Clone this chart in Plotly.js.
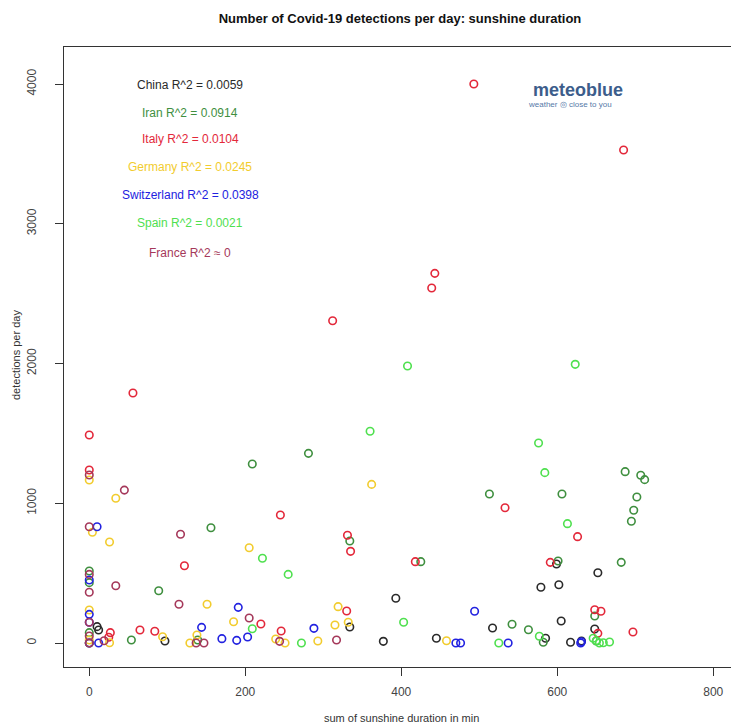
<!DOCTYPE html>
<html>
<head>
<meta charset="utf-8">
<script src="https://cdn.plot.ly/plotly-3.0.1.min.js"></script>
<style>html,body{margin:0;padding:0;background:#fff;}#chart{width:731px;height:725px;}</style>
</head>
<body>
<div id="chart"></div>
<script>
// ---- data ----
const countries = ["China", "Iran", "Italy", "Germany", "Switzerland", "Spain", "France"];
const r2Labels = ["China R^2 = 0.0059", "Iran R^2 = 0.0914", "Italy R^2 = 0.0104", "Germany R^2 = 0.0245", "Switzerland R^2 = 0.0398", "Spain R^2 = 0.0021", "France R^2 \u2248 0"];

const chinaX = [10, 12, 97, 334, 377, 393, 445, 517, 579, 585, 599, 602, 605, 617, 631, 648, 652];
const chinaY = [117, 93, 14, 114, 12, 320, 34, 107, 399, 34, 565, 417, 157, 5, 14, 100, 503];

const iranX = [0, 0, 0, 0, 54, 89, 139, 156, 209, 281, 334, 425, 513, 542, 563, 582, 601, 606, 648, 650, 682, 687, 695, 698, 702, 707, 712];
const iranY = [515, 432, 74, 0, 21, 374, 21, 825, 1281, 1357, 730, 582, 1066, 134, 95, 5, 587, 1066, 193, 14, 577, 1226, 871, 950, 1045, 1200, 1169];

const italyX = [0, 0, 25, 27, 56, 65, 84, 122, 220, 245, 246, 312, 330, 331, 335, 418, 439, 443, 493, 533, 591, 626, 648, 652, 656, 697, 685];
const italyY = [1488, 1238, 41, 74, 1789, 93, 84, 553, 136, 916, 86, 2306, 229, 771, 656, 582, 2540, 2645, 4000, 968, 577, 761, 238, 69, 227, 79, 3528];

const germanyX = [0, 34, 4, 26, 0, 0, 26, 94, 129, 138, 151, 185, 205, 239, 251, 293, 315, 319, 332, 362, 458];
const germanyY = [1166, 1036, 792, 723, 236, 21, 2, 45, 0, 57, 277, 152, 682, 29, 0, 14, 129, 260, 148, 1135, 16];

const switzerlandX = [10, 0, 0, 0, 0, 12, 144, 170, 189, 191, 203, 288, 470, 476, 494, 537, 630, 631];
const switzerlandY = [832, 451, 205, 148, 0, 0, 112, 31, 19, 255, 43, 105, 0, 0, 227, 0, 0, 9];

const spainX = [209, 222, 255, 272, 360, 403, 408, 525, 576, 577, 584, 613, 623, 646, 650, 654, 659, 667];
const spainY = [102, 606, 491, 0, 1515, 148, 1982, 0, 1431, 48, 1219, 854, 1994, 34, 16, 0, 2, 7];

const franceX = [0, 45, 0, 0, 0, 0, 0, 0, 19, 34, 115, 117, 137, 147, 205, 244, 317];
const franceY = [1202, 1094, 832, 491, 363, 148, 50, 0, 16, 410, 277, 778, 0, 0, 179, 12, 21];

const xTicks = [0, 200, 400, 600, 800];
const yTicks = [0, 1000, 2000, 3000, 4000];

// ---- styling ----
const colors = ["#2a2a2a", "#3f8f3f", "#e3283a", "#f2cc2e", "#2222e0", "#4fe04f", "#a5385a"];
const seriesX = [chinaX, iranX, italyX, germanyX, switzerlandX, spainX, franceX];
const seriesY = [chinaY, iranY, italyY, germanyY, switzerlandY, spainY, franceY];

const FONT = "'Liberation Sans', Arial, Helvetica, sans-serif";

const traces = countries.map((c, i) => ({
  type: "scatter",
  mode: "markers",
  name: c,
  x: seriesX[i],
  y: seriesY[i],
  marker: {symbol: "circle-open", size: 7.5, color: colors[i], line: {width: 1.6, color: colors[i]}},
  hoverinfo: "x+y+name"
}));

const labelY = [0.9387, 0.894, 0.8516, 0.8069, 0.7613, 0.7161, 0.6677];
const annotations = r2Labels.map((t, i) => ({
  text: t, xref: "paper", yref: "paper", x: 0.189, y: labelY[i],
  xanchor: "center", yanchor: "middle", showarrow: false,
  font: {family: FONT, size: 12, color: colors[i]}
}));

annotations.push(
  {text: "<b>meteoblue</b>", xref: "paper", yref: "paper", x: (578 - 64) / 667, y: (667 - 90) / 620,
   xanchor: "center", yanchor: "middle", showarrow: false,
   font: {family: FONT, size: 18, color: "#3c5d8b"}},
  {text: "weather \u25CE close to you", xref: "paper", yref: "paper", x: (570 - 64) / 667, y: (667 - 104) / 620,
   xanchor: "center", yanchor: "middle", showarrow: false,
   font: {family: FONT, size: 8, color: "#5579a8"}},
  {text: "sum of sunshine duration in min", xref: "paper", yref: "paper", x: (401 - 64) / 667, y: (667 - 718) / 620,
   xanchor: "center", yanchor: "middle", showarrow: false,
   font: {family: FONT, size: 11, color: "#333"}},
  {text: "detections per day", xref: "paper", yref: "paper", x: (16 - 64) / 667, y: (667 - 355) / 620,
   xanchor: "center", yanchor: "middle", showarrow: false, textangle: -90,
   font: {family: FONT, size: 11, color: "#333"}}
);

const layout = {
  width: 731, height: 725,
  margin: {l: 64, r: 0, t: 47, b: 58, pad: 0},
  paper_bgcolor: "#ffffff", plot_bgcolor: "#ffffff",
  showlegend: false,
  title: {text: "<b>Number of Covid-19 detections per day: sunshine duration</b>",
          x: 400 / 731, xref: "container", xanchor: "center",
          y: 1 - 18 / 725, yref: "container", yanchor: "middle",
          font: {family: FONT, size: 13, color: "#111"}},
  xaxis: {range: [-32.4, 822.7], tickvals: xTicks, ticktext: xTicks.map(String),
          showgrid: false, zeroline: false, showline: true, mirror: true,
          linecolor: "#333", linewidth: 1.2, ticks: "outside", ticklen: 8, tickcolor: "#333",
          tickfont: {family: FONT, size: 12, color: "#444"}, ticklabelstandoff: 5},
  yaxis: {range: [-171.7, 4264.8], tickvals: yTicks, ticktext: yTicks.map(String),
          showgrid: false, zeroline: false, showline: true, mirror: false,
          linecolor: "#333", linewidth: 1.2, ticks: "outside", ticklen: 8, tickcolor: "#333",
          tickangle: -90, tickfont: {family: FONT, size: 12, color: "#444"}, ticklabelstandoff: 14},
  annotations: annotations
};

Plotly.newPlot("chart", traces, layout, {displayModeBar: false, staticPlot: true});
</script>
</body>
</html>
